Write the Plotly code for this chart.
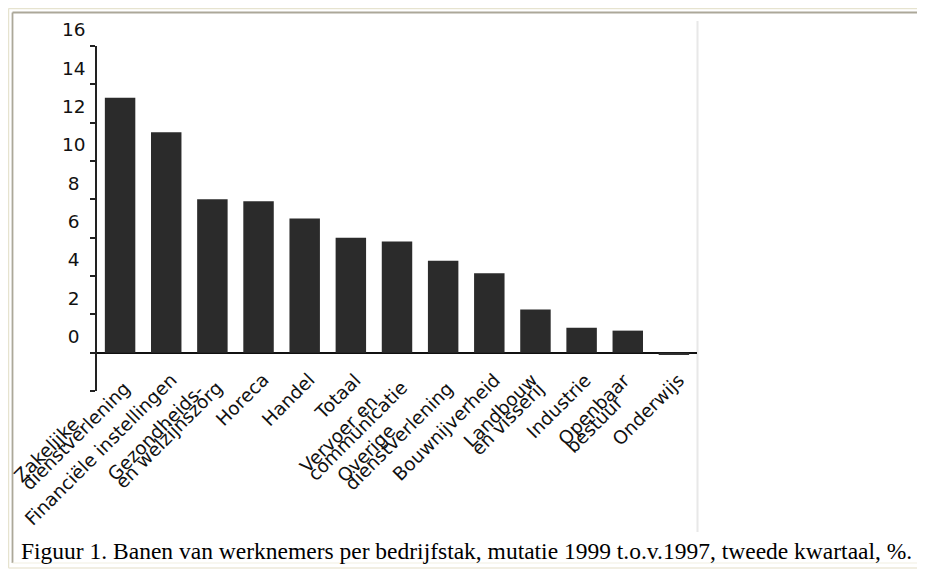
import plotly.graph_objects as go

# ---------------- data ----------------
categories = [
    "Zakelijke dienstverlening", "Financiële instellingen", "Gezondheids- en welzijnszorg",
    "Horeca", "Handel", "Totaal", "Vervoer en communicatie", "Overige dienstverlening",
    "Bouwnijverheid", "Landbouw en visserij", "Industrie", "Openbaar bestuur", "Onderwijs",
]
tick_label_lines = [
    ["Zakelijke", "dienstverlening"], ["Financiële instellingen"], ["Gezondheids-", "en welzijnszorg"],
    ["Horeca"], ["Handel"], ["Totaal"], ["Vervoer en", "communicatie"], ["Overige", "dienstverlening"],
    ["Bouwnijverheid"], ["Landbouw", "en visserij"], ["Industrie"], ["Openbaar", "bestuur"], ["Onderwijs"],
]
values = [13.3, 11.5, 8.0, 7.9, 7.0, 6.0, 5.8, 4.8, 4.15, 2.25, 1.3, 1.15, -0.12]
y_tickvals = [-2, 0, 2, 4, 6, 8, 10, 12, 14, 16]
y_ticktext = ["", "0", "2", "4", "6", "8", "10", "12", "14", "16"]
caption = "Figuur 1. Banen van werknemers per bedrijfstak, mutatie 1999 t.o.v.1997, tweede kwartaal, %."

# ---------------- layout geometry ----------------
# the page body has an 8px default margin, so the figure is sized/offset to fit 925x573
OFF = 8
W, H = 925 - OFF, 573 - OFF
ML, MR, MT, MB = 97 - OFF, 228, 46 - OFF, 182
PW, PH = W - ML - MR, H - MT - MB


def px(x):
    """page pixel x -> paper coordinate"""
    return (x - OFF - ML) / PW


def py(y):
    """page pixel y -> paper coordinate"""
    return (H - MB - (y - OFF)) / PH


SANS = "DejaVu Sans"
LABEL_PX = 18.5

fig = go.Figure(
    go.Bar(
        x=categories,
        y=values,
        marker=dict(color="#2b2b2b", line=dict(width=0)),
        hoverinfo="skip",
    )
)

# y tick labels: center single digits under two-digit ones
y_text = [t + "\u2004" if len(t) == 1 else t for t in y_ticktext]

fig.update_layout(
    width=W,
    height=H,
    margin=dict(l=ML, r=MR, t=MT, b=MB, pad=0),
    paper_bgcolor="white",
    plot_bgcolor="white",
    bargap=0.34,
    showlegend=False,
    xaxis=dict(
        type="category",
        categoryorder="array",
        categoryarray=categories,
        range=[-0.5, 12.5],
        showticklabels=False,
        ticks="",
        showline=False,
        showgrid=False,
        zeroline=False,
    ),
    yaxis=dict(
        range=[-2, 16],
        tickmode="array",
        tickvals=y_tickvals,
        ticktext=y_text,
        ticks="outside",
        ticklen=5,
        tickwidth=1.5,
        tickcolor="#222",
        showline=True,
        linecolor="#222",
        linewidth=1.5,
        showgrid=False,
        zeroline=True,
        zerolinecolor="#111",
        zerolinewidth=2,
        ticklabelshift=-16,
        ticklabelstandoff=1,
        tickfont=dict(family=SANS, size=18.5, color="#111"),
    ),
)

# rotated category labels (tight, overlapping line spacing like the original)
for cat, lines in zip(categories, tick_label_lines):
    txt = "<br>".join(f"<span style='font-size:{LABEL_PX}px'>{ln}</span>" for ln in lines)
    fig.add_annotation(
        x=cat, y=0, xref="x", yref="y",
        text=txt, showarrow=False,
        textangle=-45, align="left",
        xanchor="right", yanchor="top",
        xshift=17, yshift=-14,
        font=dict(family=SANS, size=8.5, color="#111"),
    )

# caption
fig.add_annotation(
    x=px(19), y=py(551), xref="paper", yref="paper",
    text=caption, showarrow=False, xanchor="left", yanchor="middle",
    font=dict(family="Liberation Serif", size=23.5, color="#000"),
)

# frame lines (page decoration)
shapes = [
    # outer cream border
    dict(type="line", x0=px(8.5), x1=px(930), y0=py(8.5), y1=py(8.5), line=dict(color="#e6e3cf", width=1.5)),
    dict(type="line", x0=px(8.5), x1=px(8.5), y0=py(8.5), y1=py(568), line=dict(color="#e6e3cf", width=1.5)),
    dict(type="line", x0=px(8.5), x1=px(930), y0=py(568), y1=py(568), line=dict(color="#ece9d8", width=1.5)),
    # inner grey inset border
    dict(type="line", x0=px(12.5), x1=px(930), y0=py(12.5), y1=py(12.5), line=dict(color="#aca899", width=1.8)),
    dict(type="line", x0=px(12.5), x1=px(12.5), y0=py(12.5), y1=py(563), line=dict(color="#aca899", width=1.8)),
    dict(type="line", x0=px(12.5), x1=px(930), y0=py(563), y1=py(563), line=dict(color="#f1efe2", width=1.2)),
    # right edge of the chart image
    dict(type="line", x0=px(697.5), x1=px(697.5), y0=py(21), y1=py(532), line=dict(color="#e8e8e8", width=2)),
]
for s in shapes:
    s.update(xref="paper", yref="paper", layer="below")
    fig.add_shape(**s)

fig.write_html("out.html")
